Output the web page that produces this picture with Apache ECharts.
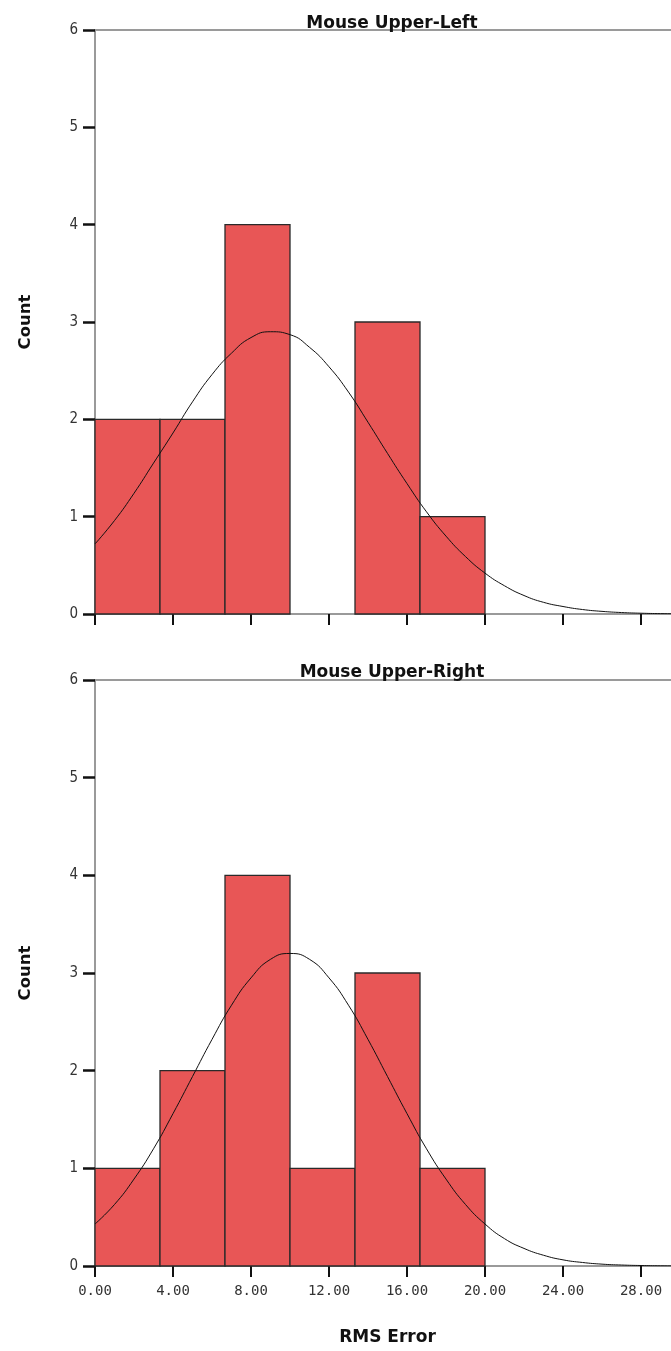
<!DOCTYPE html>
<html>
<head>
<meta charset="utf-8">
<script src="https://cdn.jsdelivr.net/npm/echarts@6/dist/echarts.min.js"></script>
<style>
html,body{margin:0;padding:0;background:#fff;}
#chart{width:671px;height:1351px;}
</style>
</head>
<body>
<div id="chart"></div>
<script>
// ---- data ----
const panelTitles = ['Mouse Upper-Left', 'Mouse Upper-Right'];
const binStarts = [0, 3.3333, 6.6667, 10, 13.3333, 16.6667];
const binWidth = 3.3333;
const countsUpperLeft = [2, 2, 4, 0, 3, 1];
const countsUpperRight = [1, 2, 4, 1, 3, 1];
const curveX = [0,1,2,3,4,5,6,7,8,9,10,11,12,13,14,15,16,17,18,19,20,21,22,23,24,25,26,27,28,29,30];
const curveUpperLeft = [0.72,0.96,1.24,1.55,1.86,2.18,2.46,2.68,2.84,2.90,2.87,2.74,2.54,2.28,1.97,1.65,1.34,1.05,0.80,0.59,0.42,0.29,0.19,0.12,0.077,0.046,0.027,0.015,0.008,0.004,0.002];
const curveUpperRight = [0.43,0.63,0.89,1.20,1.56,1.94,2.32,2.67,2.95,3.14,3.20,3.14,2.95,2.67,2.32,1.94,1.56,1.20,0.89,0.63,0.43,0.28,0.18,0.11,0.063,0.036,0.019,0.010,0.005,0.002,0.001];
const yTicks = [0,1,2,3,4,5,6];
const xAxisName = 'RMS Error';
const yAxisName = 'Count';

const chart = echarts.init(document.getElementById('chart'), null, {renderer: 'canvas'});

const grids = [
  {left: 95, top: 30, height: 584, width: 585, containLabel: false, outerBoundsMode: 'none'},
  {left: 95, top: 680, height: 586, width: 585, containLabel: false, outerBoundsMode: 'none'}
];

const axisGray = '#9a9a9a';
const tickFont = "'DejaVu Sans Mono', monospace";
const boldFont = "'DejaVu Sans', sans-serif";

function xAxisFor(i, showLabels) {
  return {
    type: 'value', gridIndex: i, min: 0, max: 30, interval: 4,
    position: 'bottom',
    axisLine: {show: true, onZero: false, lineStyle: {color: axisGray, width: 2}},
    axisTick: {show: true, inside: false, length: 11, lineStyle: {color: '#111', width: 2}},
    axisLabel: {show: showLabels, margin: 18, color: '#333', fontFamily: tickFont, fontSize: 14,
      showMaxLabel: false,
      formatter: v => (v >= 29 ? '' : v.toFixed(2))},
    splitLine: {show: false},
    name: showLabels ? xAxisName : '',
    nameLocation: 'middle', nameGap: 63,
    nameTextStyle: {fontFamily: boldFont, fontWeight: 'bold', fontSize: 17, color: '#111'}
  };
}
function topAxisFor(i) {
  return {
    type: 'value', gridIndex: i, min: 0, max: 30, position: 'top',
    axisLine: {show: true, onZero: false, lineStyle: {color: axisGray, width: 2}},
    axisTick: {show: false}, axisLabel: {show: false}, splitLine: {show: false}
  };
}
function yAxisFor(i) {
  return {
    type: 'value', gridIndex: i, min: yTicks[0], max: yTicks[yTicks.length-1], interval: 1,
    axisLine: {show: true, lineStyle: {color: axisGray, width: 2}},
    axisTick: {show: true, length: 12, lineStyle: {color: '#111', width: 2.5}},
    axisLabel: {margin: 17, color: '#333', fontFamily: "'DejaVu Sans Condensed', sans-serif", fontSize: 15},
    splitLine: {show: false},
    name: yAxisName, nameLocation: 'middle', nameRotate: 90, nameGap: 61,
    nameTextStyle: {fontFamily: boldFont, fontWeight: 'bold', fontSize: 16.5, color: '#111'}
  };
}

function histSeries(i, counts) {
  const data = binStarts.map((s, k) => [s, s + binWidth, counts[k]]);
  return {
    type: 'custom', xAxisIndex: i * 2, yAxisIndex: i,
    data: data,
    encode: {x: [0, 1], y: 2},
    renderItem: function (params, api) {
      const h = api.value(2);
      if (!h) return null;
      const p0 = api.coord([api.value(0), h]);
      const p1 = api.coord([api.value(1), 0]);
      return {
        type: 'rect',
        shape: {x: p0[0], y: p0[1], width: p1[0] - p0[0], height: p1[1] - p0[1]},
        style: {fill: '#e85656', stroke: '#2a2a2a', lineWidth: 1.3}
      };
    },
    z: 2
  };
}
function curveSeries(i, ys) {
  return {
    type: 'line', xAxisIndex: i * 2, yAxisIndex: i,
    data: curveX.map((x, k) => [x, ys[k]]),
    smooth: true, showSymbol: false, symbol: 'none',
    lineStyle: {color: '#111', width: 1},
    z: 5, silent: true
  };
}

const option = {
  animation: false,
  backgroundColor: '#ffffff',
  title: panelTitles.map((t, i) => ({
    text: t, left: 387, textAlign: 'center', top: i === 0 ? 10 : 659,
    textStyle: {fontFamily: boldFont, fontWeight: 'bold', fontSize: 17, color: '#111'}
  })),
  grid: grids,
  xAxis: [xAxisFor(0, false), topAxisFor(0), xAxisFor(1, true), topAxisFor(1)],
  yAxis: [yAxisFor(0), yAxisFor(1)],
  series: [
    histSeries(0, countsUpperLeft), curveSeries(0, curveUpperLeft),
    histSeries(1, countsUpperRight), curveSeries(1, curveUpperRight)
  ]
};
chart.setOption(option);
</script>
</body>
</html>
